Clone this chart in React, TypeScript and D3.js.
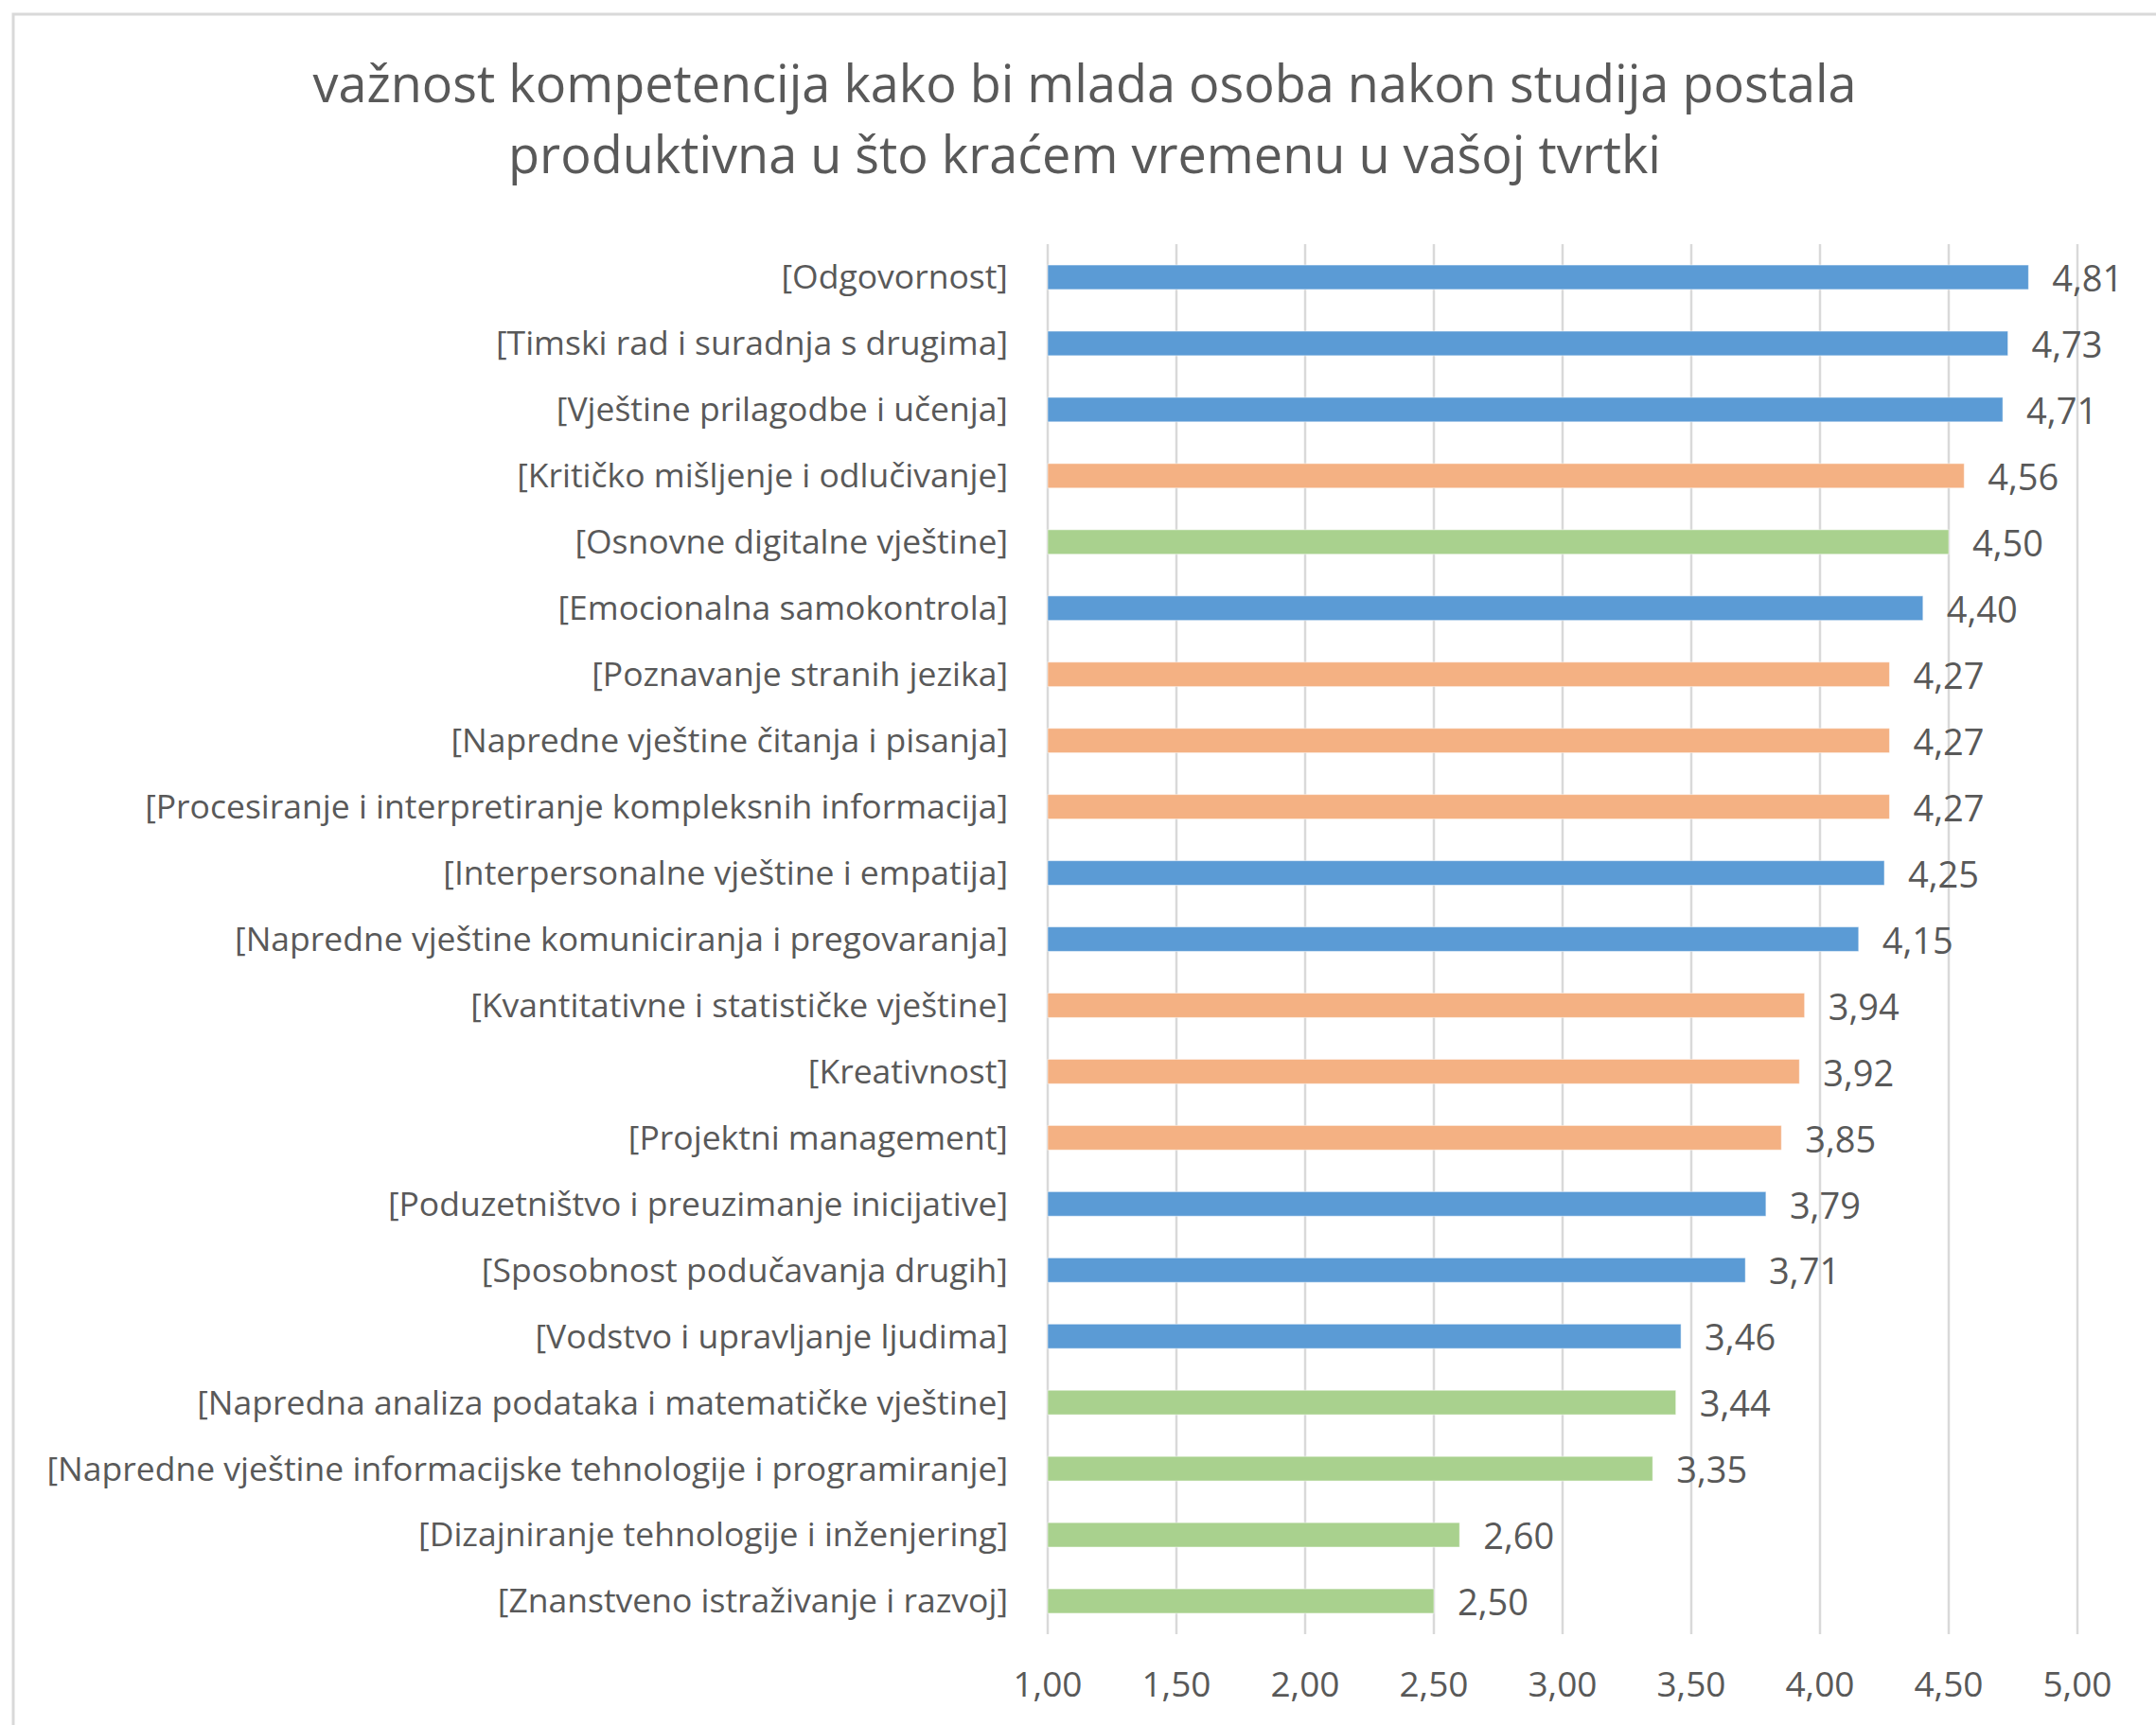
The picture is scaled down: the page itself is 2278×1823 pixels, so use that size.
import React from "react";
import * as d3 from "d3";

const title = [
  "važnost kompetencija kako bi mlada osoba nakon studija postala",
  "produktivna u što kraćem vremenu u vašoj tvrtki",
];

const categories = [
  "[Odgovornost]",
  "[Timski rad i suradnja s drugima]",
  "[Vještine prilagodbe i učenja]",
  "[Kritičko mišljenje i odlučivanje]",
  "[Osnovne digitalne vještine]",
  "[Emocionalna samokontrola]",
  "[Poznavanje stranih jezika]",
  "[Napredne vještine čitanja i pisanja]",
  "[Procesiranje i interpretiranje kompleksnih informacija]",
  "[Interpersonalne vještine i empatija]",
  "[Napredne vještine komuniciranja i pregovaranja]",
  "[Kvantitativne i statističke vještine]",
  "[Kreativnost]",
  "[Projektni management]",
  "[Poduzetništvo i preuzimanje inicijative]",
  "[Sposobnost podučavanja drugih]",
  "[Vodstvo i upravljanje ljudima]",
  "[Napredna analiza podataka i matematičke vještine]",
  "[Napredne vještine informacijske tehnologije i programiranje]",
  "[Dizajniranje tehnologije i inženjering]",
  "[Znanstveno istraživanje i razvoj]",
];

const values = [
  4.81, 4.73, 4.71, 4.56, 4.5, 4.4, 4.27, 4.27, 4.27, 4.25, 4.15, 3.94, 3.92,
  3.85, 3.79, 3.71, 3.46, 3.44, 3.35, 2.6, 2.5,
];

// competence group of each bar
const groups = [
  "social", "social", "social", "cognitive", "digital", "social", "cognitive",
  "cognitive", "cognitive", "social", "social", "cognitive", "cognitive",
  "cognitive", "social", "social", "social", "digital", "digital", "digital",
  "digital",
];

const xTicks = [1, 1.5, 2, 2.5, 3, 3.5, 4, 4.5, 5];

const W = 2278;
const H = 1823;
const FONT = "'Open Sans', sans-serif";
const TEXT = "#595959";

export default function App() {
  const x = d3.scaleLinear().domain([1, 5]).range([1107, 2195]);
  const y = d3
    .scaleBand<number>()
    .domain(d3.range(categories.length))
    .range([258, 1727])
    .paddingInner(0.63)
    .paddingOuter(0.315);
  const color = d3
    .scaleOrdinal<string, string>()
    .domain(["social", "cognitive", "digital"])
    .range(["#5B9BD5", "#F4B183", "#A9D18E"]);
  const fmt = (v: number) => d3.format(".2f")(v).replace(".", ",");

  return (
    <div style={{ position: "absolute", left: 0, top: 0 }}>
      <svg width={W} height={H} style={{ display: "block", background: "#fff" }}>
        <rect x={14} y={15} width={W + 20} height={H + 20} fill="#fff" stroke="#d9d9d9" strokeWidth={3} />
        <g fontFamily={FONT} fill={TEXT} fontSize={54} textAnchor="middle">
          {title.map((t, i) => (
            <text key={i} x={1146} y={108 + i * 75}>
              {t}
            </text>
          ))}
        </g>
        <g>
          {xTicks.map(t => (
            <line key={t} x1={x(t)} x2={x(t)} y1={258} y2={1727} stroke="#d9d9d9" strokeWidth={2.5} />
          ))}
        </g>
        <g>
          {values.map((v, i) => (
            <rect
              key={i}
              x={x(1)}
              y={y(i)}
              width={x(v) - x(1)}
              height={y.bandwidth()}
              fill={color(groups[i])}
              stroke="#fff"
              strokeOpacity={0.5}
              strokeWidth={1}
            />
          ))}
        </g>
        <g fontFamily={FONT} fill={TEXT}>
          {categories.map((c, i) => (
            <text key={c} x={1065} y={y(i)! + y.bandwidth() / 2} dy="0.35em" textAnchor="end" fontSize={35.5}>
              {c}
            </text>
          ))}
          {values.map((v, i) => (
            <text key={i} x={x(v) + 25} y={y(i)! + y.bandwidth() / 2} dy="0.4em" fontSize={38}>
              {fmt(v)}
            </text>
          ))}
          {xTicks.map(t => (
            <text key={t} x={x(t)} y={1780} dy="0.35em" textAnchor="middle" fontSize={37}>
              {fmt(t)}
            </text>
          ))}
        </g>
      </svg>
    </div>
  );
}
